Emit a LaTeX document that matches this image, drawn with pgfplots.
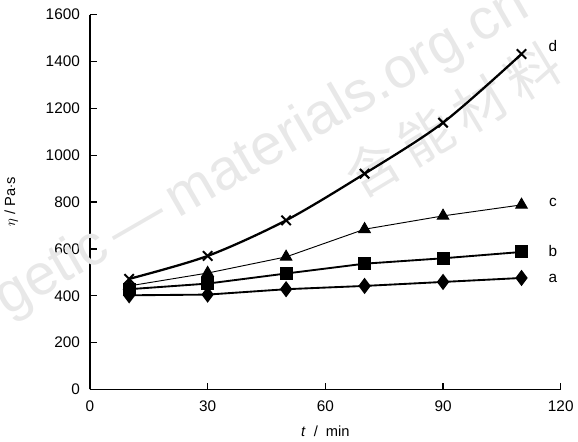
\documentclass[border=0pt]{standalone}
\usepackage{fontspec}
\setmainfont{Liberation Sans}
\newfontfamily\cjk{Noto Sans CJK SC}
\usepackage{pgfplots}
\pgfplotsset{compat=1.18}

\begin{document}
\begin{tikzpicture}
\begin{axis}[
  scale only axis,
  width=353pt, height=281pt,
  xmin=0, xmax=120, ymin=0, ymax=1600,
  xtick={0,30,60,90,120},
  ytick={0,200,...,1600},
  axis x line*=bottom, axis y line*=left,
  axis line style={line width=1.2pt, -},
  tick style={line width=1pt, black},
  major tick length=5pt,
  tick align=inside,
  tick label style={font=\fontsize{11.5}{13}\selectfont},
  yticklabel style={xshift=-4pt},
  xticklabel style={yshift=-5pt},
  /pgf/number format/assume math mode=true,
  /pgf/number format/1000 sep={},
  xlabel={\textit{t}\ \ /\ \ min},
  ylabel={$\eta$ / Pa$\cdot$s},
  label style={font=\fontsize{11}{13}\selectfont},
  xlabel style={yshift=-4pt},
  ylabel style={yshift=14pt},
  clip=false,
]
% watermark
\node[overlay, gray!18, rotate=30, font=\fontsize{43}{43}\selectfont, anchor=base west]
  at (axis cs:-22,300) {getic\,—\,materials.org.cn};
\node[overlay, gray!18, rotate=31, font=\cjk\fontsize{40}{40}\selectfont]
  at (axis cs:92.5,1151) {含\,能\,材\,料};
% top margin
\path (rel axis cs:0,1) ++(0pt,11pt);

\addplot[black, line width=1.4pt, mark=diamond*, mark size=5pt,
  mark options={solid, fill=black}]
  coordinates {(10,402) (30,405) (50,428) (70,442) (90,459) (110,476)};
\addplot[black, line width=1.4pt, mark=square*, mark size=4.2pt]
  coordinates {(10,428) (30,452) (50,495) (70,537) (90,560) (110,587)};
\addplot[black, line width=0.7pt, mark=triangle*, mark size=5pt]
  coordinates {(10,442) (30,497) (50,566) (70,684) (90,741) (110,788)};
\addplot[black, line width=1.7pt, smooth, mark=x, mark size=5pt,
  mark options={line width=1.5pt}]
  coordinates {(10,472) (30,570) (50,722) (70,921) (90,1139) (110,1432)};

\node[font=\fontsize{11.5}{13}\selectfont] at (axis cs:118,1467) {d};
\node[font=\fontsize{11.5}{13}\selectfont] at (axis cs:118,800) {c};
\node[font=\fontsize{11.5}{13}\selectfont] at (axis cs:118,593) {b};
\node[font=\fontsize{11.5}{13}\selectfont] at (axis cs:118,473) {a};
\end{axis}
\end{tikzpicture}
\end{document}
